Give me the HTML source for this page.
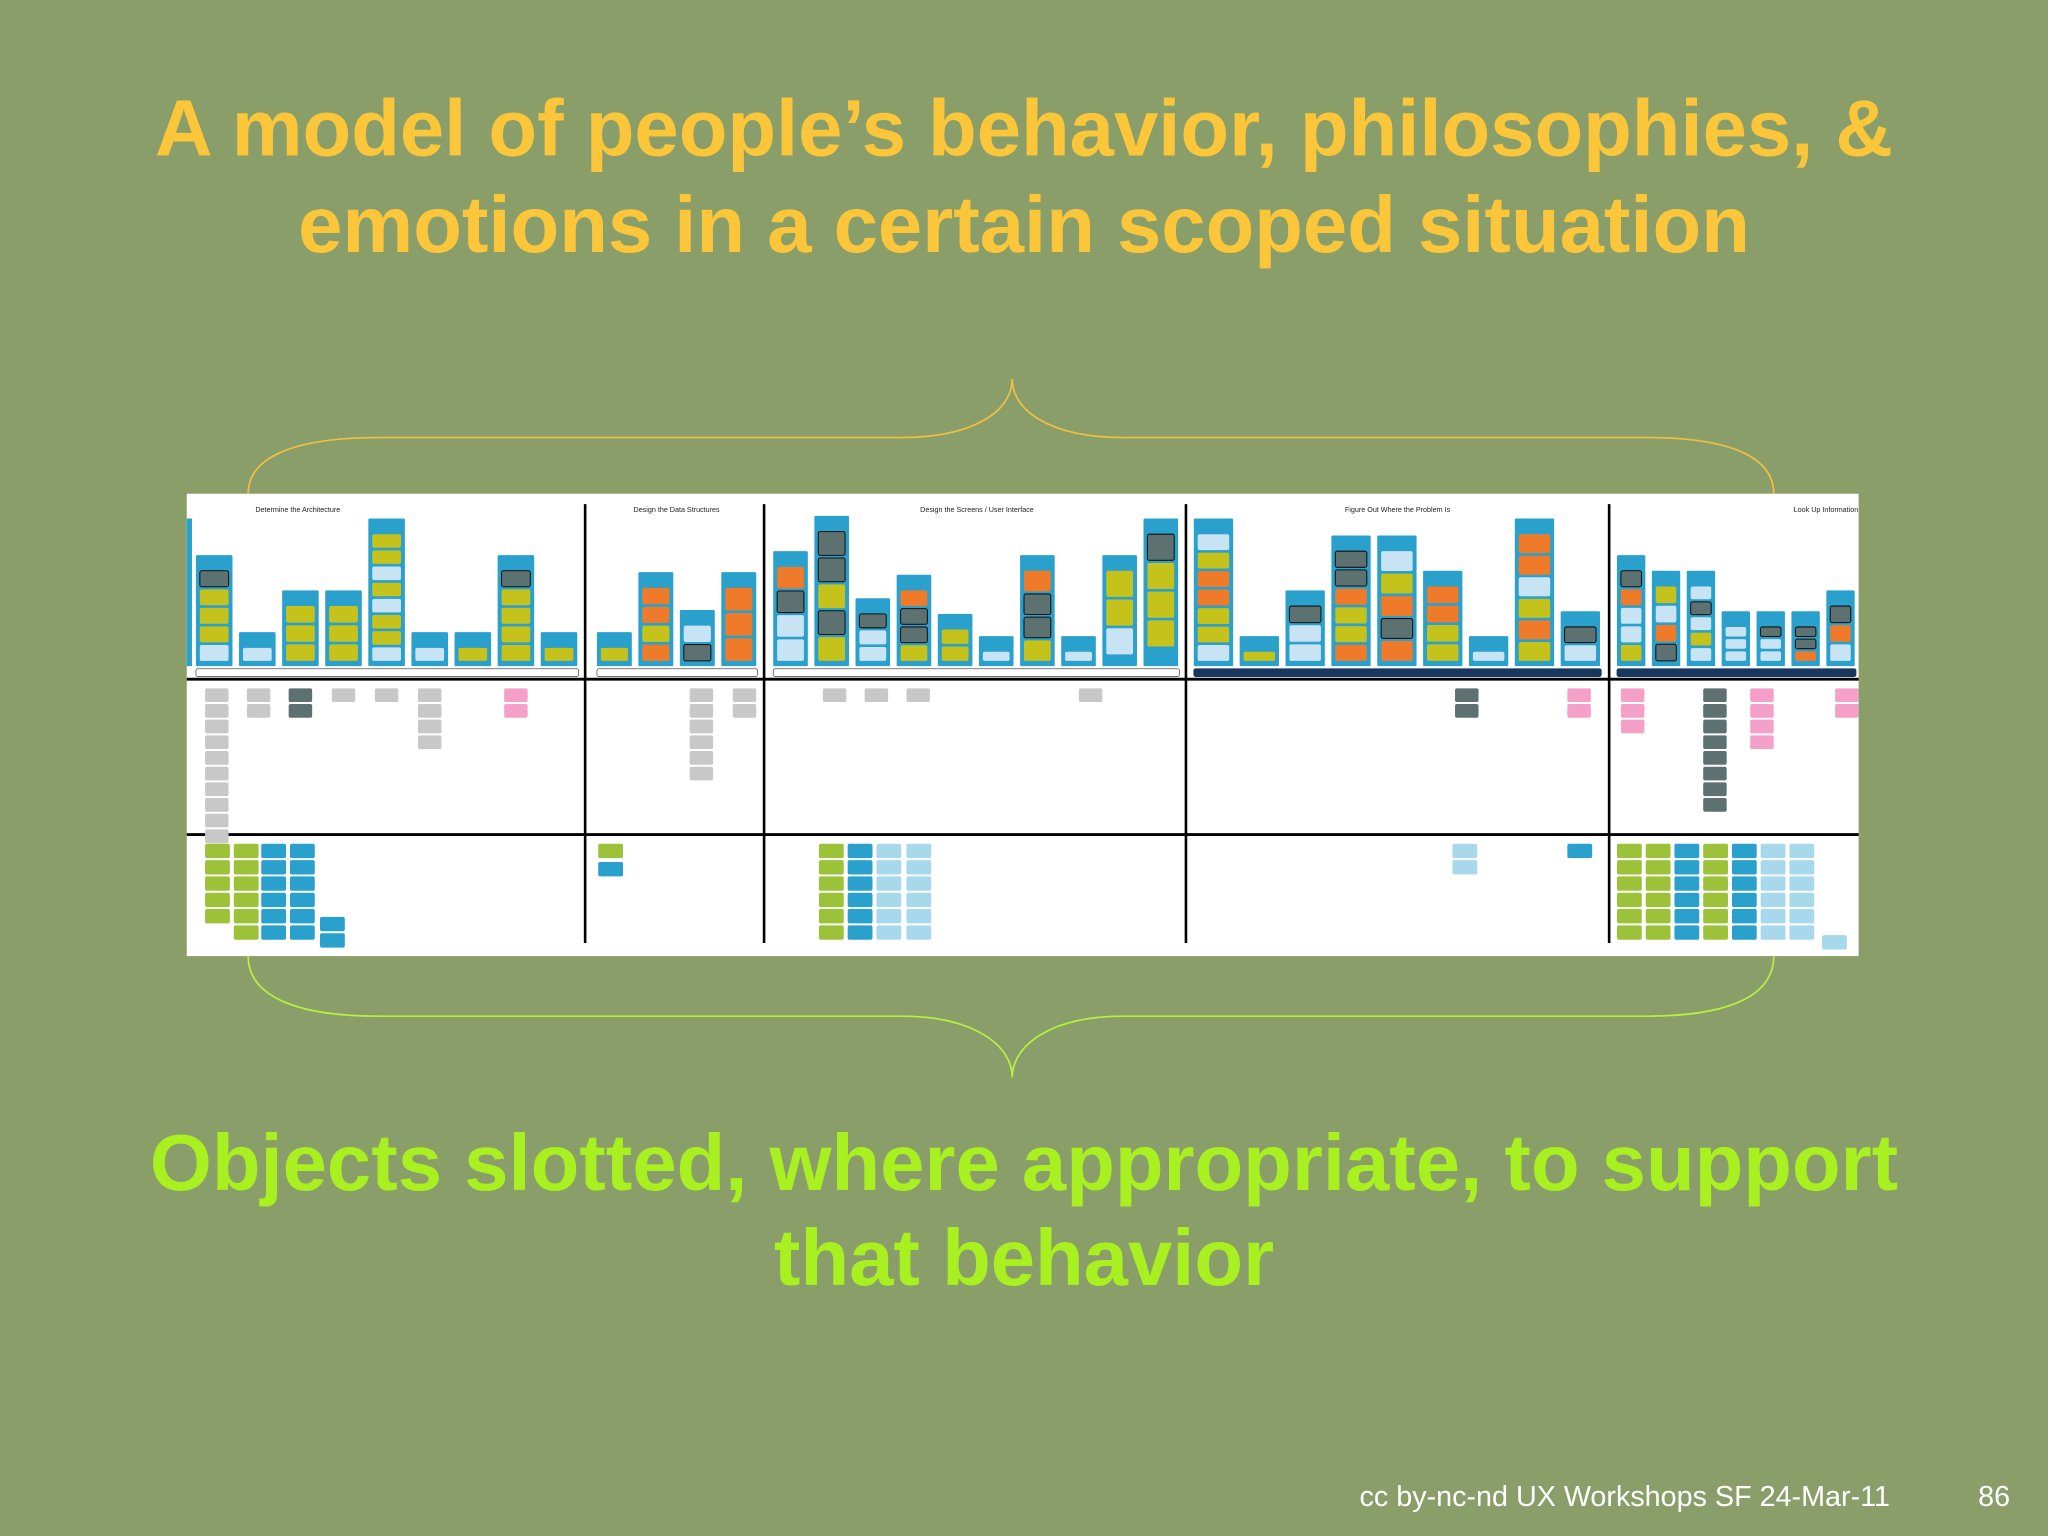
<!DOCTYPE html>
<html><head><meta charset="utf-8"><style>
html,body{margin:0;padding:0;background:#8a9e6a;}
svg{display:block;}
text{font-family:"Liberation Sans",Arial,sans-serif;}
</style></head><body>
<svg id="s" width="2048" height="1536" viewBox="0 0 1568 1176" xmlns="http://www.w3.org/2000/svg">
<rect x="0" y="0" width="1568" height="1176" fill="#8a9e6a"/>
<g fill="#fcc63a" font-weight="bold" font-size="61" text-anchor="middle">
<text x="784" y="119">A model of people’s behavior, philosophies, &amp;</text>
<text x="784" y="193">emotions in a certain scoped situation</text>
</g>
<path d="M190,378 C190,350 225,335 290,335 L690,335 C745,335 775,315 775,290 C775,315 805,335 860,335 L1260,335 C1325,335 1358,350 1358,378" fill="none" stroke="#f0c040" stroke-width="1.3"/>
<path d="M190,732 C190,762 225,778 290,778 L690,778 C745,778 775,800 775,825 C775,800 805,778 860,778 L1260,778 C1325,778 1358,762 1358,732" fill="none" stroke="#b8f040" stroke-width="1.3"/>
<g id="diagram">
<rect x="143" y="378" width="1280" height="354" fill="#ffffff"/>
</g>
<g fill="#a8f020" font-weight="bold" font-size="61" text-anchor="middle">
<text x="784" y="911">Objects slotted, where appropriate, to support</text>
<text x="784" y="984">that behavior</text>
</g>
<text x="1447" y="1153" font-size="22" fill="#ffffff" text-anchor="end">cc by-nc-nd UX Workshops SF 24-Mar-11</text>
<text x="1539" y="1153" font-size="22" fill="#ffffff" text-anchor="end">86</text>
</svg>
<script>
const NS="http://www.w3.org/2000/svg";
const sectionNames=["Determine the Architecture","Design the Data Structures","Design the Screens / User Interface","Figure Out Where the Problem Is","Look Up Information"];
const sectionStart=[148,455,590,912,1236];
const sectionEnd=[445,582,905,1228,1423];
const headerX=[228,518,748,1070,1398];
const colTops=[
 [425,484,452,452,397,484,484,425,484],
 [484,438,467,438],
 [422,395,458,440,470,487,425,487,425,397],
 [397,487,452,410,410,437,487,397,468],
 [425,437,437,468,468,468,452]
];
const colColors=[
 ["dyyyl","l","yyy","yyy","yylylyyl","l","y","dyyyy","y"],
 ["y","ooyo","ld","ooo"],
 ["odll","ddydy","dll","oddy","yy","l","oddy","l","yyl","dyyy"],
 ["lyooyyl","y","dll","ddoyyo","lyodo","ooyy","l","oolyoy","dl"],
 ["dolly","ylod","ldlyl","lll","dll","ddo","dol"]
];
const dark=[false,false,false,true,true];
const midBoxes=[[157,527,10,"g"],[189,527,2,"g"],[221,527,2,"d"],[254,527,1,"g"],[287,527,1,"g"],[320,527,4,"g"],[386,527,2,"p"],[528,527,6,"g"],[561,527,2,"g"],[630,527,1,"g"],[662,527,1,"g"],[694,527,1,"g"],[826,527,1,"g"],[1114,527,2,"d"],[1200,527,2,"p"],[1241,527,3,"p"],[1304,527,8,"d"],[1340,527,4,"p"],[1405,527,2,"p"]];
const botBoxes=[[157,646,5,"G"],[179,646,6,"G"],[200,646,6,"B"],[222,646,6,"B"],[245,702,2,"B"],[458,646,1,"G"],[458,660,1,"B"],[627,646,6,"G"],[649,646,6,"B"],[671,646,6,"L"],[694,646,6,"L"],[1112,646,2,"L"],[1200,646,1,"B"],[1238,646,6,"G"],[1260,646,6,"G"],[1282,646,6,"B"],[1304,646,6,"G"],[1326,646,6,"B"],[1348,646,6,"L"],[1370,646,6,"L"],[1395,716,1,"L"]];
const pal={y:"#c5c21c",o:"#ef7a2a",l:"#c8e4f4",d:"#5d7270",g:"#c8c8c8",p:"#f4a0c8",G:"#9cc23a",B:"#2aa0cc",L:"#a8d8ec"};
const svg=document.getElementById('diagram');
function el(tag,a){const e=document.createElementNS(NS,tag);for(const k in a)e.setAttribute(k,a[k]);svg.appendChild(e);return e;}
[448,585,908,1232].forEach(x=>{const l=el('line',{x1:x,y1:386,x2:x,y2:722,stroke:'#000','stroke-width':2});

});
[520,639].forEach(y=>{const l=el('line',{x1:143,y1:y,x2:1423,y2:y,stroke:'#000','stroke-width':2.2});

});
const edge=el('rect',{x:143,y:397,width:4,height:113,fill:'#2aa0cc'});


sectionNames.forEach((n,i)=>{
 const t=el('text',{x:headerX[i],y:392,'font-size':5.5,'text-anchor':'middle',fill:'#222'});t.textContent=n;
 
 
 const bar=el('rect',{x:sectionStart[i]+2,y:512,width:sectionEnd[i]-sectionStart[i]-4,height:6,rx:1.5,fill:dark[i]?'#17375e':'#fff',stroke:dark[i]?'#17375e':'#555','stroke-width':0.6});
 
 
 const tops=colTops[i],n2=tops.length,span=sectionEnd[i]-sectionStart[i];
 const pitch=span/n2,w=pitch-5;
 tops.forEach((top,j)=>{
  const x=sectionStart[i]+j*pitch+2;
  const c=el('rect',{x:x,y:top,width:w,height:510-top,rx:1,fill:'#2aa0cc'});
  
  
  const cols=colColors[i][j]||"y";
  const avail=510-top-14,k=cols.length,h=Math.min(20,(avail-2*k)/k);
  for(let m=0;m<k;m++){
   const cc=cols[m];
   const s=el('rect',{x:x+3,y:top+12+m*(h+2),width:w-6,height:h,rx:1.5,fill:pal[cc],stroke:cc==='d'?'#111':'none','stroke-width':0.8});
   
   
  }
 });
});
function boxes(arr,h,w){arr.forEach(b=>{for(let m=0;m<b[2];m++){
 const r=el('rect',{x:b[0],y:b[1]+m*(h+1.5),width:w,height:h,rx:1.5,fill:pal[b[3]]});
 
 }});}
boxes(midBoxes,10.5,18);
boxes(botBoxes,11,19);
</script>
</body></html>
